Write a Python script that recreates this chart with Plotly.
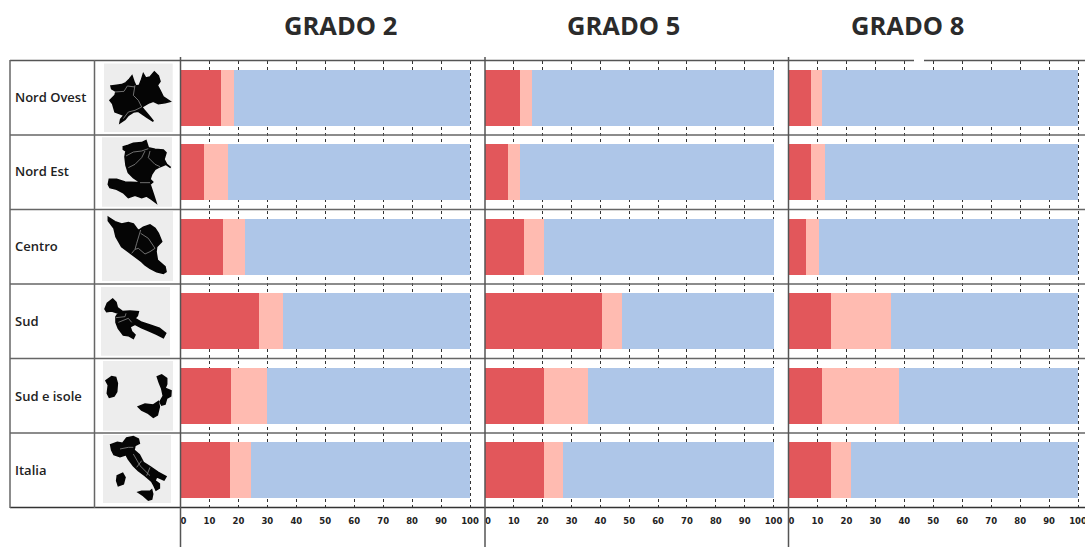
import plotly.graph_objects as go

W, H = 1085, 547

regions = ["Nord Ovest", "Nord Est", "Centro", "Sud", "Sud e isole", "Italia"]
grades = ["GRADO 2", "GRADO 5", "GRADO 8"]
ticks = [0, 10, 20, 30, 40, 50, 60, 70, 80, 90, 100]

g2_low = [14.0, 8.0, 14.7, 27.0, 17.5, 17.0]
g2_mid = [4.5, 8.3, 7.6, 8.4, 12.5, 7.2]
g2_high = [81.5, 83.7, 77.7, 64.6, 70.0, 75.8]

g5_low = [12.0, 7.8, 13.5, 40.5, 20.5, 20.5]
g5_mid = [4.2, 4.2, 7.0, 7.0, 15.2, 6.5]
g5_high = [83.8, 88.0, 79.5, 52.5, 64.3, 73.0]

g8_low = [7.9, 7.8, 6.0, 14.8, 11.7, 14.8]
g8_mid = [3.6, 4.9, 4.7, 20.6, 26.6, 6.9]
g8_high = [88.5, 87.3, 89.3, 64.6, 61.7, 78.3]

RED, PINK, BLUE = "#E2575B", "#FFBBB1", "#AEC6E8"
LINE = "#5a5a5a"


# Decorative map silhouettes: outlines traced in 3x crop pixels (crop origin, polygons, inner borders)
map_art = [
    ((100, 62), (104, 172.7, 63.5, 132),
     [[(33,72),(50,70),(65,68),(78,62),(88,52),(96,42),(103,62),(108,72),(118,70),(125,52),(130,36),(137,48),(150,45),(163,30),(175,42),(180,58),(172,70),(180,85),(190,105),(210,118),(195,122),(175,125),(160,118),(148,122),(125,135),(133,145),(150,165),(160,178),(140,165),(115,148),(100,150),(85,160),(75,172),(60,182),(62,172),(72,160),(60,155),(45,150),(38,125),(30,115),(45,100),(48,88),(35,80)]],
     [[(45,90),(72,88),(82,72),(105,75)], [(105,70),(100,100),(115,115),(125,135)], [(125,135),(105,145),(85,150),(70,170)]]),
    ((100, 136), (102, 172, 137.3, 206.7),
     [[(70,32),(85,28),(100,22),(125,20),(138,14),(145,35),(165,40),(190,42),(198,50),(192,70),(200,85),(212,95),(198,85),(180,92),(165,100),(155,115),(150,130),(158,138),(150,145),(160,175),(168,200),(155,190),(140,180),(125,185),(105,178),(85,185),(70,170),(50,160),(30,155),(25,145),(28,130),(50,130),(75,138),(110,140),(122,140),(100,125),(85,110),(78,88),(75,62),(78,45),(70,40)]],
     [[(78,60),(100,48),(125,45),(145,38)], [(85,95),(105,85),(125,65),(135,45)], [(150,45),(145,65),(165,85),(180,92)], [(120,140),(150,140)]]),
    ((100, 210), (102, 173, 211, 281),
     [[(25,22),(45,35),(65,42),(85,38),(100,42),(115,62),(130,52),(150,45),(165,55),(175,70),(185,95),(170,110),(168,125),(172,150),(195,170),(198,185),(190,190),(170,185),(150,175),(135,165),(125,155),(105,140),(85,125),(65,110),(48,80),(42,55),(25,32)]],
     [[(122,60),(110,100),(105,118),(95,130)], [(122,70),(145,85),(165,115),(150,125),(135,132),(115,115),(105,118)]]),
    ((100, 285), (101, 170, 287, 355.7),
     [[(15,72),(22,55),(38,42),(48,52),(52,68),(68,80),(90,78),(115,80),(112,92),(105,100),(125,112),(150,120),(178,130),(197,145),(190,158),(170,148),(148,138),(125,128),(105,118),(90,125),(95,140),(105,150),(100,160),(85,152),(70,150),(55,130),(48,112),(48,95),(55,85),(35,78),(20,80)]],
     [[(48,98),(75,95),(78,85)], [(55,112),(85,100),(95,112)]]),
    ((100, 360), (103, 173, 361, 430.7),
     [[(18,62),(35,50),(47,52),(52,70),(50,95),(42,108),(28,112),(22,100),(25,75)],
      [(172,50),(185,45),(200,55),(200,72),(195,85),(213,92),(212,108),(200,115),(195,132),(185,135),(180,125),(190,108),(185,85),(178,68)],
      [(115,140),(135,132),(160,135),(175,125),(178,140),(172,165),(160,172),(145,160),(125,150)]],
     []),
    ((100, 434), (103, 171, 435, 503),
     [[(32,32),(52,25),(68,28),(80,12),(100,8),(115,15),(118,28),(105,35),(102,48),(118,62),(130,85),(150,98),(175,115),(198,128),(192,138),(170,128),(165,140),(178,150),(178,162),(168,168),(162,155),(155,142),(135,125),(115,110),(100,95),(85,75),(78,62),(60,68),(42,62),(35,48)],
      [(52,125),(68,118),(75,130),(70,150),(55,155),(50,140)],
      [(115,175),(125,172),(150,172),(155,168),(158,180),(155,195),(145,198),(130,185)]],
     [[(60,45),(85,40),(100,40)], [(100,60),(120,95),(150,125)], [(125,80),(110,100)], [(150,100),(140,125)]]),
]


def px(x):
    return x / W


def py(y):
    return 1 - y / H


def hline(y, x0, x1, color=LINE, width=1.5):
    return dict(type="line", xref="paper", yref="paper", x0=px(x0), x1=px(x1),
                y0=py(y), y1=py(y), line=dict(color=color, width=width), layer="above")


def vline(x, y0, y1, color=LINE, width=1.5):
    return dict(type="line", xref="paper", yref="paper", x0=px(x), x1=px(x),
                y0=py(y0), y1=py(y1), line=dict(color=color, width=width), layer="above")


def path_of(points, origin, closed):
    ox, oy = origin
    parts = [f"{px(ox + a / 3):.5f},{py(oy + b / 3):.5f}" for a, b in points]
    return "M" + " L".join(parts) + (" Z" if closed else "")


fig = go.Figure()
panels = [(g2_low, g2_mid, g2_high, "x"), (g5_low, g5_mid, g5_high, "x2"), (g8_low, g8_mid, g8_high, "x3")]
for low, mid, high, ax in panels:
    for vals, col in ((low, RED), (mid, PINK), (high, BLUE)):
        fig.add_bar(x=vals, y=regions, orientation="h", xaxis=ax, yaxis="y",
                    marker=dict(color=col, line=dict(width=0)), width=0.75, showlegend=False)

shapes = []
row_edges = [135, 209.5, 284, 358.5, 433]
for y in row_edges:
    shapes.append(hline(y, 10, W, "#666666", 1.5))
shapes.append(hline(60.5, 10, 914, "#555555", 1.5))
shapes.append(hline(60.5, 924, W, "#555555", 1.5))
shapes.append(hline(507.5, 10, W, "#333333", 1.5))
shapes.append(vline(10, 60, 508, "#666666", 1.5))
shapes.append(vline(94.5, 60, 508, "#666666", 1.5))
for x in (180.5, 485, 788.5):
    shapes.append(vline(x, 57, H, "#555555", 1.5))

for origin, box, polys, borders in map_art:
    x0, x1, y0, y1 = box
    shapes.append(dict(type="rect", xref="paper", yref="paper", x0=px(x0), x1=px(x1), y0=py(y1), y1=py(y0),
                       fillcolor="#EDEDED", line=dict(width=0), layer="above"))
    for poly in polys:
        shapes.append(dict(type="path", xref="paper", yref="paper", path=path_of(poly, origin, True),
                           fillcolor="#050505", line=dict(color="#050505", width=1.6), layer="above"))
    for b in borders:
        shapes.append(dict(type="path", xref="paper", yref="paper", path=path_of(b, origin, False),
                           line=dict(color="#8a8a8a", width=0.8), layer="above"))

annotations = []
for g, cx in zip(grades, (340.5, 623.5, 907.5)):
    annotations.append(dict(text=f"<b>{g}</b>", xref="paper", yref="paper", x=px(cx), y=py(24.5), showarrow=False,
                            xanchor="center", yanchor="middle", font=dict(family="Open Sans", size=25.5, color="#2b2b2b")))
for r, cy in zip(regions, (97, 171.5, 246.5, 321, 395.5, 470)):
    annotations.append(dict(text=r, xref="paper", yref="paper", x=px(13), y=py(cy), showarrow=False,
                            xanchor="left", yanchor="middle",
                            font=dict(family="Open Sans", size=13, color="#222222", weight=600)))

tick_text = ["\u00a0\u00a00"] + [str(t) for t in ticks[1:]]


def xaxis(d0, d1, end):
    return dict(domain=[px(d0), px(d1)], range=[0, end], anchor="y", tickmode="array", tickvals=ticks,
                ticktext=tick_text, ticks="outside", ticklen=5, tickcolor="rgba(0,0,0,0)",
                tickfont=dict(family="DejaVu Sans", size=8.5, color="#222222", weight=700),
                ticklabeloverflow="allow",
                showgrid=True, gridcolor="#333333", griddash="3px,3px", gridwidth=1,
                zeroline=False, showline=False)


fig.update_layout(
    width=W, height=H, margin=dict(l=0, r=0, t=0, b=0, autoexpand=False), barmode="stack", bargap=0.25,
    paper_bgcolor="white", plot_bgcolor="white",
    xaxis=xaxis(180.5, 484, 104.83),
    xaxis2=xaxis(485, 787.5, 104.85),
    xaxis3=xaxis(788.5, 1085, 102.4),
    yaxis=dict(domain=[py(507.5), py(60.5)], categoryorder="array", categoryarray=regions,
               range=[5.5, -0.5], showticklabels=False, showgrid=False, zeroline=False, ticks="", anchor="x"),
    shapes=shapes, annotations=annotations,
)

fig.write_html("out.html", config={"displayModeBar": False},
               post_script="document.body.style.margin='0';document.body.style.overflow='hidden';")
